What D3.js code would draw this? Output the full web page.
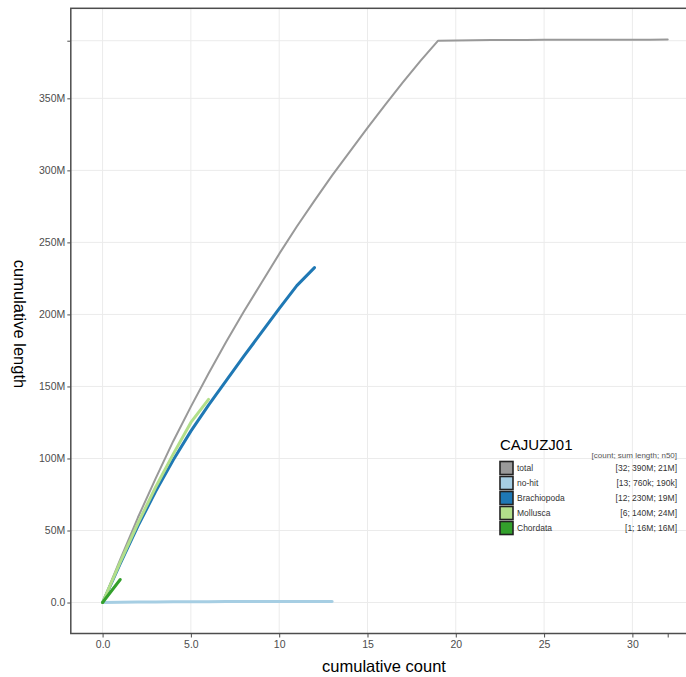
<!DOCTYPE html>
<html>
<head>
<meta charset="utf-8">
<script src="https://cdn.jsdelivr.net/npm/d3@7"></script>
<style>
  html, body { margin: 0; padding: 0; background: #fff; }
  svg { display: block; font-family: "Liberation Sans", Arial, sans-serif; }
</style>
</head>
<body>
<svg id="chart" width="686" height="677"></svg>
<script>
// ---- data (cumulative length in Mb vs cumulative count) ----
const assemblyName = "CAJUZJ01";
const legendHeader = "[count; sum length; n50]";
const seriesNames = ["total", "no-hit", "Brachiopoda", "Mollusca", "Chordata"];
const seriesColors = ["#999999", "#a6cee3", "#1f78b4", "#b2df8a", "#33a02c"];
const seriesStats = ["[32; 390M; 21M]", "[13; 760k; 190k]", "[12; 230M; 19M]", "[6; 140M; 24M]", "[1; 16M; 16M]"];

const totalValues = [0, 30, 59, 86, 112, 136, 159, 181, 202, 222, 242, 261, 279, 296.5, 313, 329.5, 345.5, 361, 376, 390,
  390.19, 390.34, 390.44, 390.52, 390.58, 390.625, 390.66, 390.69, 390.715, 390.73, 390.742, 390.752, 390.76];
const noHitValues = [0, 0.19, 0.34, 0.44, 0.52, 0.58, 0.625, 0.66, 0.69, 0.715, 0.73, 0.742, 0.752, 0.76];
const brachiopodaValues = [0, 27, 53, 77, 99, 119, 137, 154, 171, 187.5, 204, 220, 232.5];
const molluscaValues = [0, 28, 55, 80, 103, 125, 141];
const chordataValues = [0, 16];

const xTickValues = [0, 5, 10, 15, 20, 25, 30, 32];
const xTickLabels = ["0.0", "5.0", "10", "15", "20", "25", "30", ""];
const yTickValues = [0, 50, 100, 150, 200, 250, 300, 350, 390];
const yTickLabels = ["0.0", "50M", "100M", "150M", "200M", "250M", "300M", "350M", ""];
const xGridValues = [0, 5, 10, 15, 20, 25, 30];

const seriesValues = [totalValues, noHitValues, brachiopodaValues, molluscaValues, chordataValues];
const seriesWidths = [2, 3, 3, 3, 3];

// ---- layout ----
const svg = d3.select("#chart");
const pLeft = 70.8, pTop = 8.3, pBottom = 633.5;
const x = d3.scaleLinear().domain([-1.8, 33.8]).range([pLeft, pLeft + 35.6 * 17.66]);
const y = d3.scaleLinear().domain([-21.5, 412.5]).range([pBottom, pTop]);
const pRight = x.range()[1];

const g = svg.append("g");

// gridlines
g.selectAll("line.vgrid").data(xGridValues).join("line")
  .attr("class", "vgrid")
  .attr("x1", d => x(d)).attr("x2", d => x(d))
  .attr("y1", pTop).attr("y2", pBottom)
  .attr("stroke", "#ebebeb").attr("stroke-width", 1);
g.selectAll("line.hgrid").data(yTickValues).join("line")
  .attr("class", "hgrid")
  .attr("x1", pLeft).attr("x2", pRight)
  .attr("y1", d => y(d)).attr("y2", d => y(d))
  .attr("stroke", "#ebebeb").attr("stroke-width", 1);

// series lines
const line = d3.line().x((d, i) => x(i)).y(d => y(d));
seriesValues.forEach((vals, k) => {
  g.append("path")
    .datum(vals)
    .attr("d", line)
    .attr("fill", "none")
    .attr("stroke", seriesColors[k])
    .attr("stroke-width", seriesWidths[k])
    .attr("stroke-linecap", "round")
    .attr("stroke-linejoin", "round");
});

// panel border
g.append("rect")
  .attr("x", pLeft).attr("y", pTop)
  .attr("width", pRight - pLeft).attr("height", pBottom - pTop)
  .attr("fill", "none").attr("stroke", "#4d4d4d").attr("stroke-width", 1.5);

// axes
const xAxis = d3.axisBottom(x).tickValues(xTickValues)
  .tickFormat((d, i) => xTickLabels[i]).tickSize(4).tickPadding(3);
const xa = svg.append("g").attr("transform", `translate(0,${pBottom})`).call(xAxis);
xa.select(".domain").remove();
xa.selectAll(".tick line").attr("stroke", "#4d4d4d");
xa.selectAll(".tick text").attr("fill", "#4d4d4d").style("font-size", "10.5px")
  .style("font-family", "'Liberation Sans', Arial, sans-serif");

const yAxis = d3.axisLeft(y).tickValues(yTickValues)
  .tickFormat((d, i) => yTickLabels[i]).tickSize(3.5).tickPadding(2);
const ya = svg.append("g").attr("transform", `translate(${pLeft},0)`).call(yAxis);
ya.select(".domain").remove();
ya.selectAll(".tick line").attr("stroke", "#4d4d4d");
ya.selectAll(".tick text").attr("fill", "#4d4d4d").style("font-size", "10.5px")
  .style("font-family", "'Liberation Sans', Arial, sans-serif");

// axis titles
svg.append("text")
  .attr("x", 384).attr("y", 672)
  .attr("text-anchor", "middle")
  .style("font-size", "16.5px").attr("fill", "#000")
  .text("cumulative count");
svg.append("text")
  .attr("transform", "translate(14,324) rotate(90)")
  .attr("text-anchor", "middle")
  .style("font-size", "16.5px").attr("fill", "#000")
  .text("cumulative length");

// legend
const lg = svg.append("g");
lg.append("text").attr("x", 500).attr("y", 450)
  .style("font-size", "15px").attr("fill", "#000").text(assemblyName);
lg.append("text").attr("x", 677).attr("y", 458).attr("text-anchor", "end")
  .style("font-size", "8px").attr("fill", "#555").text(legendHeader);
const rowY = d3.scaleLinear().domain([0, 1]).range([468, 483]);
seriesNames.forEach((name, k) => {
  const cy = rowY(k);
  lg.append("rect").attr("x", 500).attr("y", cy - 6.5).attr("width", 13).attr("height", 13)
    .attr("fill", seriesColors[k]).attr("stroke", "#222").attr("stroke-width", 1.6);
  lg.append("text").attr("x", 517).attr("y", cy + 3)
    .style("font-size", "8.5px").attr("fill", "#333").text(name);
  lg.append("text").attr("x", 677).attr("y", cy + 3).attr("text-anchor", "end")
    .style("font-size", "8.5px").attr("fill", "#333").text(seriesStats[k]);
});
</script>
</body>
</html>
